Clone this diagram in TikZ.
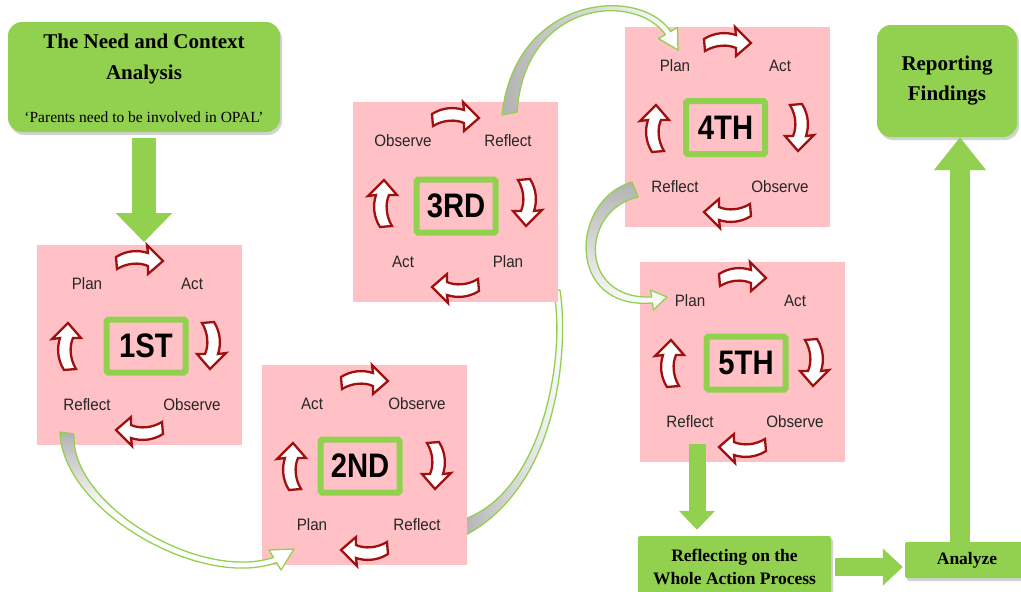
\documentclass[tikz,border=0pt]{standalone}
\usepackage{fontspec}
\setmainfont{Liberation Serif}
\setsansfont{Liberation Sans}
\usetikzlibrary{arrows.meta,shadows,calc}

\definecolor{grn}{RGB}{146,208,80}
\definecolor{cyclepink}{RGB}{255,193,197}
\definecolor{arrred}{RGB}{160,16,16}

\tikzset{
  pinkbox/.style={fill=cyclepink, draw=none, minimum width=205pt, minimum height=200pt,
    inner sep=0pt, outer sep=0pt},
  stagelbl/.style={font=\sffamily\fontsize{16.5}{17}\selectfont, text=black!85, inner sep=0pt},
  ordbox/.style={draw=grn, line width=6pt, rounded corners=1.5pt, minimum width=79pt,
    minimum height=53pt, inner sep=0pt, font=\sffamily\bfseries\fontsize{34}{34}\selectfont},
  gshadow/.style={drop shadow={opacity=0.35, shadow xshift=2pt, shadow yshift=-3pt}},
  greenbox/.style={fill=grn, draw=none, rounded corners=14pt, inner sep=0pt, gshadow},
  flatbox/.style={fill=grn, draw=none, rounded corners=2pt, inner sep=0pt, gshadow},
  garrow/.style n args={3}{draw=grn, line width=#1, -{Triangle[width=#2,length=#3]}},
  carrow/.style={draw=grn, line width=1.3pt, line join=round},
  redarr/.pic={
    \draw[fill=white, draw=arrred, line width=2.3pt, line join=miter]
      (-23,-3) .. controls (-12,-10) and (0,-10) .. (9,-7) -- (8,-15) -- (24,1)
      -- (9,14) -- (9,6) .. controls (0,2) and (-12,3) .. (-22,9) -- cycle;
  }
}

% narrow the sans lettering a little
\newcommand\narrow[2]{\scalebox{#1}[1]{#2}}

% one stage of the cycle: name, x, y, ordinal, four labels, centre of ordinal box
\newcommand\cyclestage[9]{%
  \begin{scope}[shift={(#2,#3)}]
    \node[pinkbox, anchor=north west] (#1) at (0,0) {};
    \pic at (102,15) {redarr};
    \pic[rotate=-90] at (174,100) {redarr};
    \pic[rotate=180] at (103,186) {redarr};
    \pic[rotate=90] at (30,102) {redarr};
    \node[stagelbl] (#1-tl) at (50,39) {\narrow{0.92}{#5}};
    \node[stagelbl] (#1-tr) at (155,39) {\narrow{0.92}{#6}};
    \node[stagelbl] (#1-bl) at (50,160) {\narrow{0.92}{#7}};
    \node[stagelbl] (#1-br) at (155,160) {\narrow{0.92}{#8}};
    \node[ordbox] (#1-no) at (#9) {\narrow{0.86}{#4}};
  \end{scope}}

\begin{document}
\begin{tikzpicture}[x=1pt, y=-1pt]
\useasboundingbox (0,0) rectangle (1021,592);
\fill[white] (0,0) rectangle (1021,592);
\clip (0,0) rectangle (1021,592);

% second stage to third stage (runs under the third box)
\draw[carrow, left color=black!30, right color=white]
  (462,537) .. controls (563,486) and (568,340) .. (560,290) -- (553,290)
  .. controls (566,340) and (549,491) .. (462,520) -- cycle;

% the five cycles
\cyclestage{st1}{37}{245}{1ST}{Plan}{Act}{Reflect}{Observe}{109,101}
\cyclestage{st2}{262}{365}{2ND}{Act}{Observe}{Plan}{Reflect}{98,101}
\cyclestage{st3}{353}{102}{3RD}{Observe}{Reflect}{Act}{Plan}{103,104}
\cyclestage{st4}{625}{27}{4TH}{Plan}{Act}{Reflect}{Observe}{100.5,100.5}
\cyclestage{st5}{640}{262}{5TH}{Plan}{Act}{Reflect}{Observe}{106,101}

% first stage to second stage
\draw[carrow, top color=black!30, bottom color=white, middle color=white]
  (60,432) .. controls (62,510) and (200,590) .. (276.5,562.6) -- (281,570) -- (294,549)
  -- (269,550) -- (273.5,557.4) .. controls (200,582) and (70,505) .. (74,434) -- cycle;

% third stage to fourth stage
\draw[carrow, left color=black!30, right color=white]
  (502,115) .. controls (515,-5) and (640,-15) .. (670.6,31.5) -- (677.5,27.4) -- (678,50)
  -- (658.5,38.6) -- (665.4,34.5) .. controls (635,-8) and (525,0) .. (517,112) -- cycle;

% fourth stage to fifth stage
\draw[carrow, top color=black!30, bottom color=white]
  (632,182) .. controls (570,200) and (565,310) .. (652.4,303) -- (653.5,310) -- (667,297)
  -- (650.5,290) -- (651.6,297) .. controls (578,300) and (580,210) .. (638,197) -- cycle;

% start and end boxes
\node[greenbox, minimum width=272pt, minimum height=110pt] (need) at (144,77) {};
\node[font=\bfseries\fontsize{21}{31}\selectfont, align=center, inner sep=0pt] (needtitle)
  at (144,59) {The Need and Context\\Analysis};
\node[font=\fontsize{15.5}{17}\selectfont, inner sep=0pt] (needsub) at (144,117)
  {‘Parents need to be involved in OPAL’};

\node[greenbox, minimum width=140pt, minimum height=112pt, align=center,
  font=\bfseries\fontsize{21}{30}\selectfont] (rep) at (947,81) {Reporting\\Findings};

\node[flatbox, minimum width=193pt, minimum height=62pt, align=center,
  font=\bfseries\fontsize{17.5}{23}\selectfont] (refl) at (734.5,567)
  {Reflecting on the\\Whole Action Process};

\node[flatbox, minimum width=124pt, minimum height=36pt,
  font=\bfseries\fontsize{17.5}{20}\selectfont] (anl) at (967,560) {Analyze};

% straight block arrows
\draw[garrow={24pt}{55pt}{29pt}, shorten <=6pt, shorten >=3pt]
  (need.south) -- (need.south |- st1.north);

\coordinate (a2s) at ($(st5.south west)+(57,-18)$);
\draw[garrow={17pt}{35pt}{19pt}, shorten >=6pt] (a2s) -- (a2s |- refl.north);

\draw[garrow={18pt}{36pt}{20pt}, shorten <=4pt, shorten >=2pt]
  (refl.east) -- (refl.east -| anl.west);

\coordinate (a4s) at ([xshift=-7pt]anl.north);
\draw[garrow={20pt}{50pt}{33pt}] (a4s) -- (a4s |- rep.south);
\end{tikzpicture}
\end{document}
